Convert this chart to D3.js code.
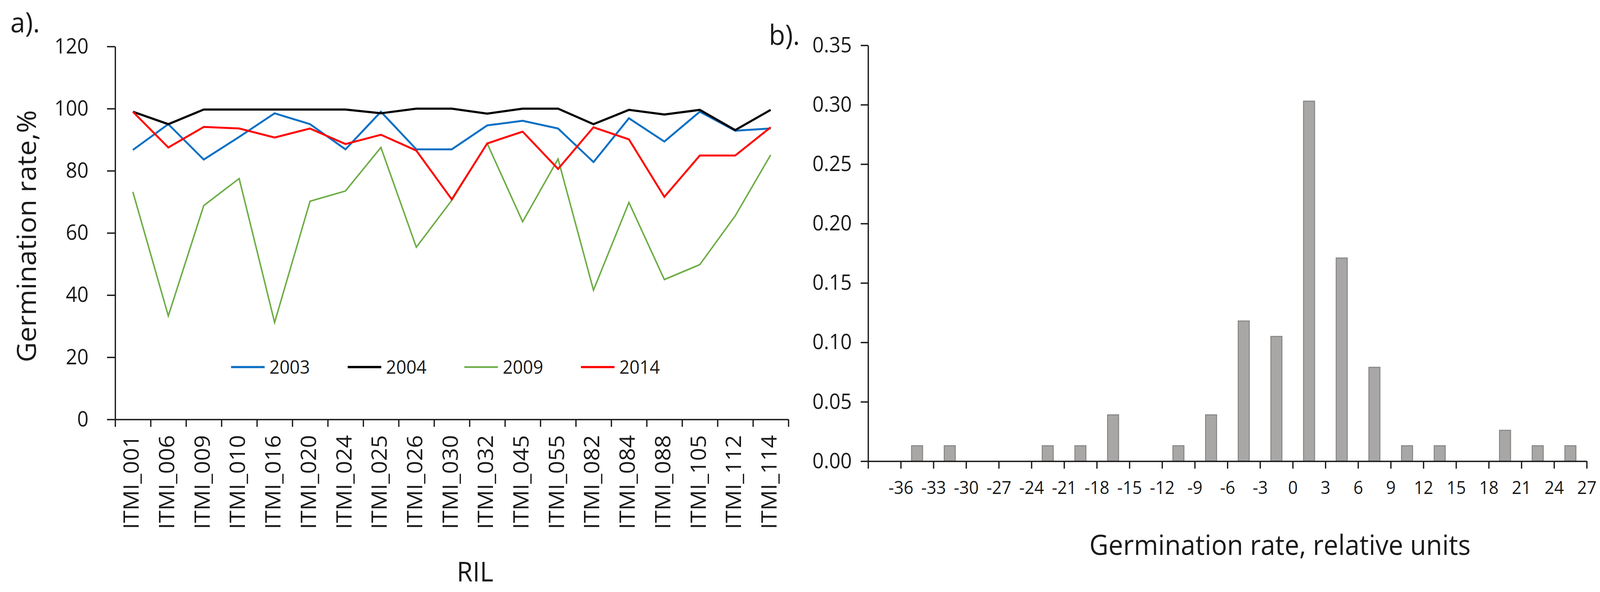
<!DOCTYPE html>
<html>
<head>
<meta charset="utf-8">
<script src="https://cdn.jsdelivr.net/npm/d3@7"></script>
<style>
  html, body { margin: 0; padding: 0; background: #fff; overflow: hidden; }
  svg { display: block; width: 100vw; height: 100vh; font-family: "Open Sans", sans-serif; }
  .axis path, .axis line { stroke: #1a1a1a; stroke-width: 3.5; }
</style>
</head>
<body>
<svg viewBox="0 0 4335 1516" preserveAspectRatio="none"></svg>
<script>
// panel a: germination rate of each RIL per year
const rils = ['ITMI_001', 'ITMI_006', 'ITMI_009', 'ITMI_010', 'ITMI_016', 'ITMI_020', 'ITMI_024',
  'ITMI_025', 'ITMI_026', 'ITMI_030', 'ITMI_032', 'ITMI_045', 'ITMI_055', 'ITMI_082',
  'ITMI_084', 'ITMI_088', 'ITMI_105', 'ITMI_112', 'ITMI_114']
const s2003 = [86.7, 95.0, 83.6, 90.9, 98.5, 95.0, 86.9, 99.0, 86.9, 86.9, 94.6, 96.1, 93.6, 82.8, 96.9, 89.4, 99.0, 92.9, 93.6]
const s2004 = [99.0, 95.0, 99.7, 99.7, 99.7, 99.7, 99.7, 98.5, 100, 100, 98.4, 100, 100, 95.0, 99.6, 98.1, 99.6, 93.1, 99.6]
const s2009 = [73.2, 33.3, 68.8, 77.5, 31.2, 70.2, 73.5, 87.5, 55.4, 70.5, 88.8, 63.6, 83.8, 41.6, 69.8, 45.0, 49.8, 65.5, 85.1]
const s2014 = [99.0, 87.5, 94.1, 93.6, 90.7, 93.6, 88.6, 91.6, 86.5, 70.8, 88.8, 92.6, 80.6, 94.0, 90.1, 71.6, 84.9, 84.9, 94.0]
const yTicksA = [0, 20, 40, 60, 80, 100, 120]

// panel b: histogram, bins of width 3 (lower edges)
const binStarts = [-39, -36, -33, -30, -27, -24, -21, -18, -15, -12, -9, -6, -3, 0, 3, 6, 9, 12, 15, 18, 21, 24]
const binFreq = [0, 0.013, 0.013, 0, 0, 0.013, 0.013, 0.039, 0, 0.013, 0.039, 0.118, 0.105, 0.303, 0.171, 0.079, 0.013, 0.013, 0, 0.026, 0.013, 0.013]
const xTicksB = [-39, -36, -33, -30, -27, -24, -21, -18, -15, -12, -9, -6, -3, 0, 3, 6, 9, 12, 15, 18, 21, 24, 27]
const yTicksB = [0, 0.05, 0.10, 0.15, 0.20, 0.25, 0.30, 0.35]

const series = [
  { name: '2003', values: s2003, color: '#0a70c4', width: 5 },
  { name: '2004', values: s2004, color: '#000000', width: 5.5 },
  { name: '2009', values: s2009, color: '#6cad45', width: 4 },
  { name: '2014', values: s2014, color: '#ff0000', width: 5 }
]

const svg = d3.select('svg')

// ---------- panel a ----------
const xA = d3.scaleBand().domain(rils).range([312, 2136])
const xEdgeA = d3.scaleLinear().domain([0, rils.length]).range([312, 2136])
const yA = d3.scaleLinear().domain([0, 120]).range([1074, 119])

svg.append('g')
   .attr('class', 'axis')
   .attr('transform', 'translate(312,0)')
   .call(d3.axisLeft(yA).tickValues(yTicksA).tickSize(22).tickPadding(50).tickSizeOuter(0))
   .call(g => g.selectAll('text').attr('font-size', 54).attr('fill', '#1a1a1a').attr('font-family', '"Open Sans"'))

svg.append('g')
   .attr('class', 'axis')
   .attr('transform', 'translate(0,1074)')
   .call(d3.axisBottom(xEdgeA).tickValues(d3.range(rils.length + 1)).tickFormat('').tickSize(19).tickSizeOuter(0))

// rotated RIL names
svg.append('g')
   .selectAll('text')
   .data(rils)
   .enter()
   .append('text')
   .attr('transform', d => 'translate(' + (xA(d) + xA.bandwidth() / 2 + 16) + ',1114) rotate(-90)')
   .attr('text-anchor', 'end')
   .attr('font-size', 58)
   .attr('fill', '#1a1a1a')
   .text(d => d)

const line = d3.line()
               .x((v, i) => xA(rils[i]) + xA.bandwidth() / 2)
               .y(v => yA(v))

svg.append('g')
   .selectAll('path')
   .data(series)
   .enter()
   .append('path')
   .attr('d', s => line(s.values))
   .attr('fill', 'none')
   .attr('stroke', s => s.color)
   .attr('stroke-width', s => s.width)
   .attr('stroke-linejoin', 'miter')

// legend inside plot
const legend = svg.append('g')
                  .selectAll('g')
                  .data(series)
                  .enter()
                  .append('g')
                  .attr('transform', (s, i) => 'translate(' + (626 + i * 316) + ',940)')
legend.append('line')
      .attr('x1', 0).attr('x2', 91)
      .attr('stroke', s => s.color)
      .attr('stroke-width', s => s.width + 0.5)
legend.append('text')
      .attr('x', 104)
      .attr('y', 17)
      .attr('font-size', 48)
      .attr('fill', '#1a1a1a')
      .text(s => s.name)

svg.append('text')
   .attr('transform', 'translate(97,605) rotate(-90)')
   .attr('text-anchor', 'middle')
   .attr('font-size', 71)
   .attr('fill', '#1a1a1a')
   .text('Germination rate,%')

svg.append('text')
   .attr('x', 1287).attr('y', 1489)
   .attr('text-anchor', 'middle')
   .attr('font-size', 70)
   .attr('fill', '#1a1a1a')
   .text('RIL')

svg.append('text')
   .attr('x', 28).attr('y', 83)
   .attr('font-size', 72)
   .attr('fill', '#1a1a1a')
   .text('a).')

// ---------- panel b ----------
const xB = d3.scaleLinear().domain([-39, 27]).range([2352, 4299])
const yB = d3.scaleLinear().domain([0, 0.35]).range([1181, 116])

svg.append('g')
   .selectAll('rect')
   .data(binStarts.map((b, i) => [b, binFreq[i]]).filter(d => d[1] > 0))
   .enter()
   .append('rect')
   .attr('x', d => xB(d[0] + 1.5) - 15)
   .attr('width', 30)
   .attr('y', d => yB(d[1]))
   .attr('height', d => yB(0) - yB(d[1]))
   .attr('fill', '#a9a6a6')
   .attr('stroke', '#858282')
   .attr('stroke-width', 2.5)

svg.append('g')
   .attr('class', 'axis')
   .attr('transform', 'translate(2352,0)')
   .call(d3.axisLeft(yB).tickValues(yTicksB).tickFormat(d3.format('.2f')).tickSize(20).tickPadding(24).tickSizeOuter(0))
   .call(g => g.selectAll('text').attr('font-size', 54).attr('fill', '#1a1a1a').attr('font-family', '"Open Sans"'))

svg.append('g')
   .attr('class', 'axis')
   .attr('transform', 'translate(0,1181)')
   .call(d3.axisBottom(xB).tickValues(xTicksB).tickFormat(d => d === -39 ? '' : d).tickSize(19).tickPadding(32).tickSizeOuter(0))
   .call(g => g.selectAll('text').attr('font-size', 46).attr('fill', '#1a1a1a').attr('font-family', '"Open Sans"'))

svg.append('text')
   .attr('x', 3468).attr('y', 1421)
   .attr('text-anchor', 'middle')
   .attr('font-size', 71)
   .attr('fill', '#1a1a1a')
   .text('Germination rate, relative units')

svg.append('text')
   .attr('x', 2083).attr('y', 115)
   .attr('font-size', 72)
   .attr('fill', '#1a1a1a')
   .text('b).')
</script>
</body>
</html>
